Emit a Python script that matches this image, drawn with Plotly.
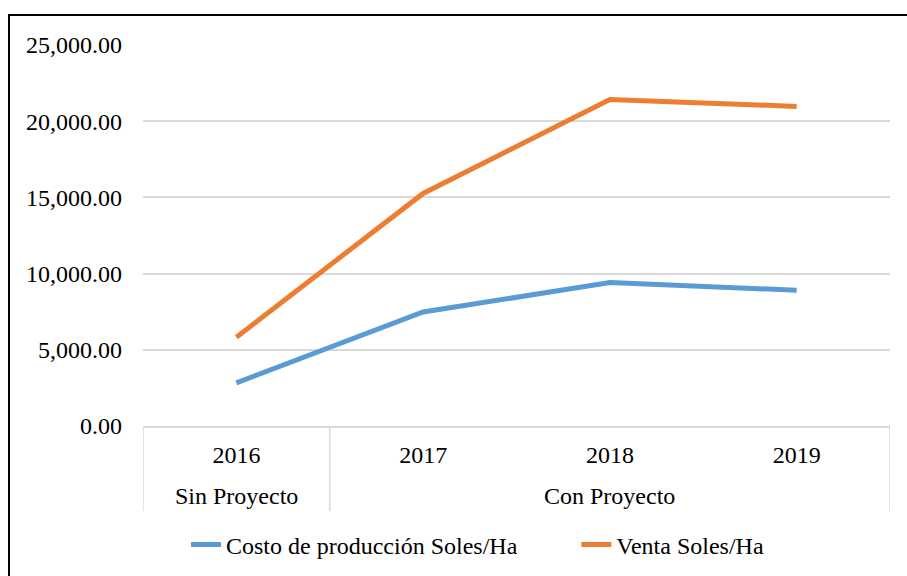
import plotly.graph_objects as go

years = ["2016", "2017", "2018", "2019"]
group_labels = ["Sin Proyecto", "Con Proyecto"]
group_centers = [0, 2]          # category index at centre of each group
group_bounds = [-0.5, 0.5, 3.5]  # category boundaries of groups
costo = [2830, 7480, 9410, 8910]
venta = [5830, 15260, 21430, 20970]
y_ticks = [0, 5000, 10000, 15000, 20000, 25000]

FONT = "Liberation Serif, Times New Roman, serif"
GRID = "#D9D9D9"
PLOT_H = 381

fig = go.Figure()
fig.add_trace(go.Scatter(
    x=list(range(len(years))), y=costo, mode="lines",
    name="Costo de producción Soles/Ha" + "\u00a0" * 9,
    line=dict(color="#5B9BD5", width=5),
))
fig.add_trace(go.Scatter(
    x=list(range(len(years))), y=venta, mode="lines",
    name="Venta Soles/Ha",
    line=dict(color="#ED7D31", width=5),
))

shapes = [dict(type="rect", xref="paper", yref="paper",
               x0=-134/747, x1=1.5, y0=-2, y1=1 + 30/PLOT_H,
               line=dict(color="black", width=2), fillcolor="rgba(0,0,0,0)",
               layer="below")]
for b in group_bounds:
    shapes.append(dict(type="line", xref="x", yref="paper", x0=b, x1=b,
                       y0=0, y1=-85/PLOT_H, line=dict(color=GRID, width=1.5)))

annotations = [dict(text=t, x=c, xref="x", y=-70/PLOT_H, yref="paper",
                    showarrow=False, xanchor="center", yanchor="middle",
                    font=dict(family=FONT, size=24, color="black"))
               for t, c in zip(group_labels, group_centers)]

fig.update_layout(
    width=907, height=576,
    margin=dict(l=143, r=17, t=45, b=150, autoexpand=False),
    paper_bgcolor="white", plot_bgcolor="white",
    font=dict(family=FONT, size=24, color="black"),
    showlegend=True,
    legend=dict(orientation="h", x=(186 - 143) / 747, xanchor="left",
                y=-0.3123, yanchor="middle",
                font=dict(size=24), bgcolor="rgba(0,0,0,0)"),
    shapes=shapes,
    annotations=annotations,
)
fig.update_yaxes(range=[0, 25000], tickvals=y_ticks, tickformat=",.2f",
                 showgrid=True, gridcolor=GRID, gridwidth=1.5,
                 zeroline=False, showline=False, ticks="", ticklabelstandoff=20)
fig.update_xaxes(range=[-0.5, 3.5], tickvals=list(range(len(years))), ticktext=years,
                 showline=True, linecolor=GRID, linewidth=1.5,
                 showgrid=False, zeroline=False, ticks="", ticklabelstandoff=6)

fig.write_html("out.html", config={"displayModeBar": False},
               post_script="document.body.style.margin='0px';")
